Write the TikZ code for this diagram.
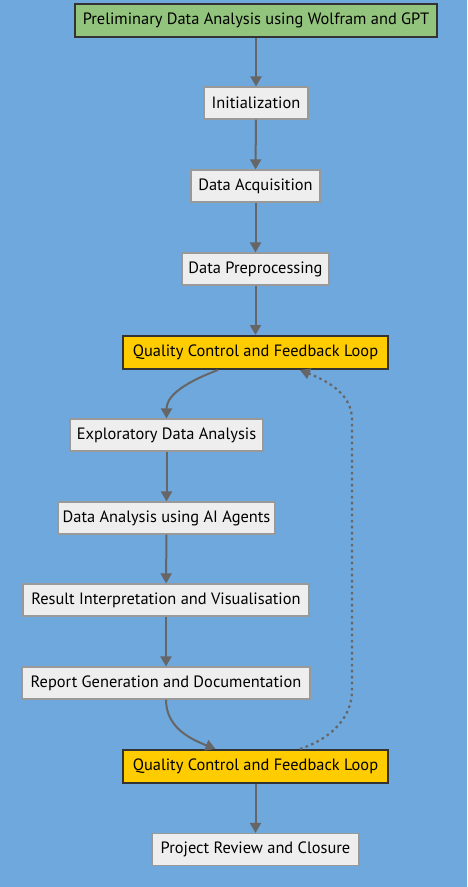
\documentclass[tikz,border=0pt]{standalone}
\usepackage{fontspec}
\setmainfont{PT Sans}
\usetikzlibrary{arrows.meta,calc}
\definecolor{bg}{HTML}{6FA8DC}
\definecolor{gfill}{HTML}{93C47D}
\definecolor{qfill}{HTML}{FFCC00}
\definecolor{pfill}{HTML}{EEEEEE}
\definecolor{dark}{HTML}{333333}
\definecolor{pborder}{HTML}{999999}
\definecolor{edge}{HTML}{666666}
\begin{document}
\begin{tikzpicture}[x=1pt,y=-1pt,
  every node/.style={font=\fontsize{16.4}{19}\selectfont, text=black, inner sep=0pt, anchor=center},
  proc/.style={draw=pborder, line width=1.2pt, fill=pfill, minimum height=32pt},
  start/.style={draw=dark, line width=2pt, fill=gfill, minimum height=33pt},
  qc/.style={draw=dark, line width=2pt, fill=qfill, minimum height=33pt},
  link/.style={draw=edge, line width=2pt, -{Triangle[width=11pt,length=10pt]}},
  back/.style={draw=edge, line width=2.2pt, dash pattern=on 2.5pt off 3.5pt, -{Triangle[width=11pt,length=10pt]}}]
\fill[bg] (0,0) rectangle (467,887);
\useasboundingbox (0,0) rectangle (467,887);
\node[start, minimum width=362pt] (pre) at (256,20.5) {Preliminary Data Analysis using Wolfram and GPT};
\node[proc, minimum width=104pt] (init) at (256,103) {Initialization};
\node[proc, minimum width=129pt] (acq) at (255.5,186) {Data Acquisition};
\node[proc, minimum width=147pt] (prep) at (255.5,269) {Data Preprocessing};
\node[qc, minimum width=265pt] (qc1) at (255.5,352.5) {Quality Control and Feedback Loop};
\node[proc, minimum width=193pt] (eda) at (166.5,435) {Exploratory Data Analysis};
\node[proc, minimum width=217pt] (ai) at (166.5,518) {Data Analysis using AI Agents};
\node[proc, minimum width=286pt] (res) at (166,600) {Result Interpretation and Visualisation};
\node[proc, minimum width=288pt] (rep) at (166,683) {Report Generation and Documentation};
\node[qc, minimum width=265pt] (qc2) at (255.5,766.5) {Quality Control and Feedback Loop};
\node[proc, minimum width=207pt] (rev) at (255.5,849.5) {Project Review and Closure};
\draw[link] (pre) -- (init);
\draw[link] (init) -- (acq);
\draw[link] (acq) -- (prep);
\draw[link] (prep) -- (qc1);
\draw[link] ([xshift=-37.5pt]qc1.south) .. controls +(-40,15) and +(0,-20) .. (eda.north);
\draw[link] (eda) -- (ai);
\draw[link] (ai) -- (res);
\draw[link] (res) -- (rep);
\draw[link] (rep.south) .. controls +(0,28) and +(-25,-10) .. ([xshift=-40pt]qc2.north);
\draw[link] (qc2) -- (rev);
\draw[back] ([xshift=44.5pt]qc2.north) .. controls +(35,-12) and +(0,25) .. (352,690) -- (352,420) .. controls +(0,-25) and +(30,12) .. ([xshift=44.5pt]qc1.south);
\end{tikzpicture}
\end{document}
